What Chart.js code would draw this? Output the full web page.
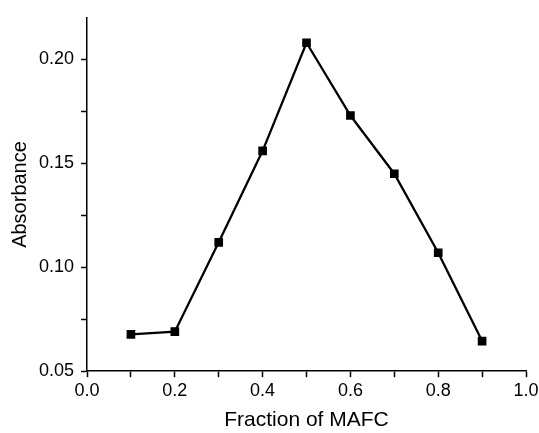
<!DOCTYPE html>
<html>
<head>
<meta charset="utf-8">
<script src="https://cdn.jsdelivr.net/npm/chart.js@4"></script>
<style>
  html, body { margin: 0; padding: 0; background: #ffffff; }
  #wrap { width: 539px; height: 433px; }
</style>
</head>
<body>
<div id="wrap"><canvas id="absorbancia"></canvas></div>
<script>
const fraccion = [0.1, 0.2, 0.3, 0.4, 0.5, 0.6, 0.7, 0.8, 0.9];
const absorbancia = [0.0677, 0.069, 0.112, 0.156, 0.208, 0.173, 0.145, 0.107, 0.0645];
const xTicks = [0, 0.1, 0.2, 0.3, 0.4, 0.5, 0.6, 0.7, 0.8, 0.9, 1.0];
const yTicks = [0.05, 0.075, 0.10, 0.125, 0.15, 0.175, 0.20];
const xLabels = [0, 0.2, 0.4, 0.6, 0.8, 1.0];
const yLabels = [0.05, 0.10, 0.15, 0.20];

const isIn = (v, list) => list.some(t => Math.abs(t - v) < 1e-6);

const ctx = document.getElementById('absorbancia').getContext('2d');
Chart.defaults.font.family = '"Liberation Sans", Arial, sans-serif';
Chart.defaults.color = '#000000';

new Chart(ctx, {
    type: 'line',
    data: {
        datasets: [{
            label: 'Absorbance',
            data: fraccion.map((x, i) => ({ x: x, y: absorbancia[i] })),
            borderColor: '#000000',
            backgroundColor: '#000000',
            borderWidth: 2.3,
            pointStyle: 'rect',
            pointRadius: 4.5,
            pointHoverRadius: 4.5,
            tension: 0
        }]
    },
    options: {
        responsive: true,
        maintainAspectRatio: false,
        animation: false,
        layout: { padding: { top: 17, right: 0, bottom: 0, left: 0 } },
        plugins: {
            legend: { display: false },
            tooltip: { enabled: false }
        },
        scales: {
            x: {
                type: 'linear',
                min: 0,
                max: 1,
                afterBuildTicks: (scale) => { scale.ticks = xTicks.map(v => ({ value: v })); },
                afterFit: (scale) => { scale.paddingRight = 13; },
                ticks: {
                    font: { size: 18 },
                    padding: 3,
                    maxRotation: 0,
                    autoSkip: false,
                    callback: (v) => isIn(v, xLabels) ? v.toFixed(1) : ''
                },
                grid: {
                    drawOnChartArea: false,
                    drawTicks: true,
                    tickLength: 6,
                    tickColor: '#000000',
                    tickWidth: 1.5
                },
                border: { display: true, color: '#000000', width: 1.5 },
                title: {
                    display: true,
                    text: 'Fraction of MAFC',
                    font: { size: 21 },
                    padding: { top: 3, bottom: 0 }
                }
            },
            y: {
                type: 'linear',
                min: 0.05,
                max: 0.22,
                afterBuildTicks: (scale) => { scale.ticks = yTicks.map(v => ({ value: v })); },
                ticks: {
                    font: { size: 18 },
                    padding: 7,
                    autoSkip: false,
                    callback: (v) => isIn(v, yLabels) ? v.toFixed(2) : ''
                },
                grid: {
                    drawOnChartArea: false,
                    drawTicks: true,
                    tickLength: 6,
                    tickColor: '#000000',
                    tickWidth: 1.5
                },
                border: { display: true, color: '#000000', width: 1.5 },
                title: {
                    display: true,
                    text: 'Absorbance',
                    font: { size: 20 },
                    padding: { top: 8, bottom: 0 }
                }
            }
        }
    }
});
</script>
</body>
</html>
